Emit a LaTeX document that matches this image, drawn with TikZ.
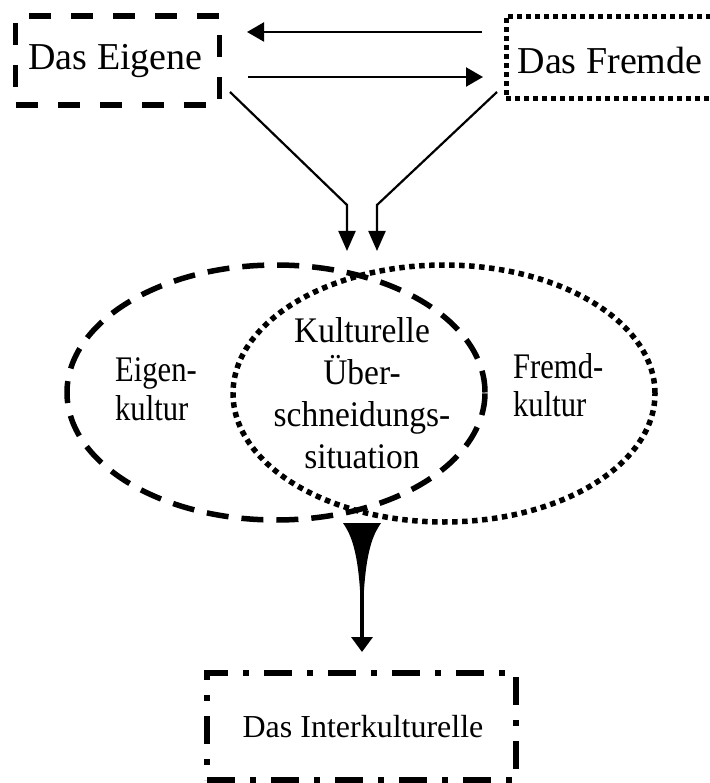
\documentclass[tikz,border=0pt]{standalone}
\usepackage{fontspec}
\setmainfont{Liberation Serif}
\usetikzlibrary{arrows.meta,shapes.geometric}
\begin{document}
\begin{tikzpicture}[x=1pt,y=-1pt,
  ebox/.style={draw, line width=5.5pt, dash pattern=on 22pt off 20pt, inner sep=0},
  fbox/.style={draw, line width=5pt, dash pattern=on 5pt off 4pt, inner sep=0},
  ibox/.style={draw, line width=6pt, dash pattern=on 28pt off 15pt on 6pt off 15pt, inner sep=0},
  dashell/.style={draw, ellipse, line width=5.5pt, dash pattern=on 22pt off 13pt, inner sep=0},
  dotell/.style={draw, ellipse, line width=5.5pt, dash pattern=on 5.5pt off 4.5pt, inner sep=0},
  conn/.style={line width=2.2pt},
  harrow/.style={conn, -{Triangle[length=17pt,width=19pt]}},
  varrow/.style={conn, -{Triangle[length=20pt,width=17pt]}},
  toptext/.style={font=\fontsize{38}{40}\selectfont, inner sep=0},
  ktext/.style={font=\fontsize{36}{38.5}\selectfont, align=left, inner sep=0, xscale=0.85},
  ctext/.style={font=\fontsize{36}{41.7}\selectfont, align=center, inner sep=0, xscale=0.93},
  btext/.style={font=\fontsize{32}{34}\selectfont, inner sep=0}
]
\useasboundingbox (0,0) rectangle (709,783);

% top boxes
\node[ebox, minimum width=204pt, minimum height=89pt] (eigen) at (117.5,60.5) {};
\node[toptext, anchor=base] (eigent) at (115.5,70) {Das Eigene};
\node[fbox, minimum width=210pt, minimum height=82pt] (fremd) at (611,57.5) {};
\node[toptext, anchor=base] (fremdt) at (610,74) {Das Fremde};

% horizontal arrows
\coordinate (a1s) at (482,32);
\coordinate (a1e) at (247,32);
\coordinate (a2s) at (248,77);
\coordinate (a2e) at (483,77);
\draw[harrow] (a1s) -- (a1e);
\draw[harrow] (a2s) -- (a2e);

% converging arrows
\coordinate (d1s) at (230,92);
\coordinate (d1b) at (347,205);
\coordinate (d1e) at (347,251);
\coordinate (d2s) at (497,92);
\coordinate (d2b) at (377,205);
\coordinate (d2e) at (377,251);
\draw[varrow] (d1s) -- (d1b) -- (d1e);
\draw[varrow] (d2s) -- (d2b) -- (d2e);

% ellipses
\node[dashell, minimum width=418pt, minimum height=255pt] (eigenk) at (276,392.5) {};
\node[dotell, minimum width=422pt, minimum height=257pt] (fremdk) at (444,393.5) {};

\node[ktext, anchor=west] (eigenkt) at (115,389.5) {Eigen-\\kultur};
\node[ctext] (ueber) at (362,393.2) {Kulturelle\\Über-\\schneidungs-\\situation};
\node[ktext, anchor=west] (fremdkt) at (513,385) {Fremd-\\kultur};

% tapered arrow
\coordinate (tl) at (343,523);
\coordinate (tr) at (381,523);
\coordinate (sr) at (364,590);
\coordinate (sl) at (360,590);
\coordinate (tip) at (362,652);
\fill (tl) -- (tr) .. controls (375,532) and (367,545) .. (sr) -- (sl) .. controls (357,545) and (349,532) .. (tl) -- cycle;
\draw[line width=3.5pt, -{Triangle[length=15pt,width=21pt]}] (362,588) -- (tip);

% bottom box
\node[ibox, minimum width=309pt, minimum height=107pt] (inter) at (361.5,726.5) {};
\node[btext, anchor=base] (intert) at (363,737) {Das Interkulturelle};
\end{tikzpicture}
\end{document}
